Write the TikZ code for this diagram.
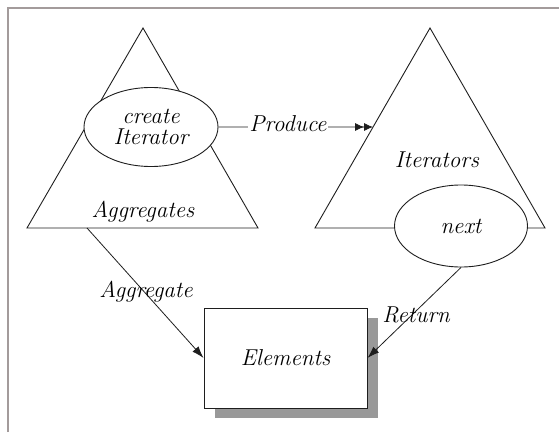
\documentclass[tikz,border=0pt]{standalone}
\usepackage{tikz}
\usetikzlibrary{shapes.geometric,arrows.meta,shadows,calc}
\definecolor{framegray}{RGB}{163,155,155}
\definecolor{shadowgray}{RGB}{153,153,153}
\definecolor{inkgray}{RGB}{30,30,30}

\tikzset{
    lbl/.style={font=\fontsize{23}{21}\selectfont\itshape, inner sep=1pt},
    bubble/.style={ellipse, draw=inkgray, fill=white, line width=0.9pt, inner sep=0pt, align=center, lbl},
    pyramid/.style={draw=inkgray, line width=0.9pt, line join=miter},
    flow/.style={draw=inkgray, line width=0.8pt, -{Latex[length=12pt,width=8pt]}}
}

\begin{document}
\begin{tikzpicture}[x=1pt,y=1pt]
        \useasboundingbox (0,0) rectangle (559,432);
        % Frame
        \draw[framegray,line width=1.2pt] (8,0) -- (8,424) -- (559,424);

        % Aggregates triangle
        \coordinate (aggTop) at (143,404);
        \coordinate (aggLeft) at (27,204);
        \coordinate (aggRight) at (258,204);
        \draw[pyramid] (aggTop) -- (aggLeft) -- (aggRight) -- cycle;
        \node[lbl] (aggName) at (143,220) {Aggregates};

        % Iterators triangle
        \coordinate (itTop) at (430,404);
        \coordinate (itLeft) at (315,204);
        \coordinate (itRight) at (545,204);
        \draw[pyramid] (itTop) -- (itLeft) -- (itRight) -- cycle;
        \node[lbl] (itName) at (437,272) {Iterators};

        % Operations
        \node[bubble, minimum width=134pt, minimum height=79pt] (create) at (151,305) {create\\Iterator};
        \node[bubble, minimum width=133pt, minimum height=82pt] (next) at (461,206) {next};

        % Elements box
        \node[draw=inkgray, fill=white, line width=0.9pt, minimum width=163pt, minimum height=100pt,
              drop shadow={shadow xshift=11pt, shadow yshift=-10pt, fill=shadowgray, opacity=1}, lbl]
              (elements) at (285.5,74) {Elements};

        % Connectors
        \coordinate (aggFoot) at (87,204);
        \coordinate (itEdge) at ($(itLeft)!0.505!(itTop)$);
        \draw[draw=inkgray, line width=0.8pt, -{Latex[length=9pt,width=8pt]Latex[length=9pt,width=8pt]}]
            (create.east) -- node[pos=0.45, lbl, fill=white, yshift=3pt] (produce) {Produce} (itEdge);
        \draw[flow] (aggFoot) -- (elements.west);
        \draw[flow] (next.south) -- (elements.east);
        \node[lbl] (aggregate) at (146,140) {Aggregate};
        \node[lbl] (return) at (416,117) {Return};
\end{tikzpicture}
\end{document}
